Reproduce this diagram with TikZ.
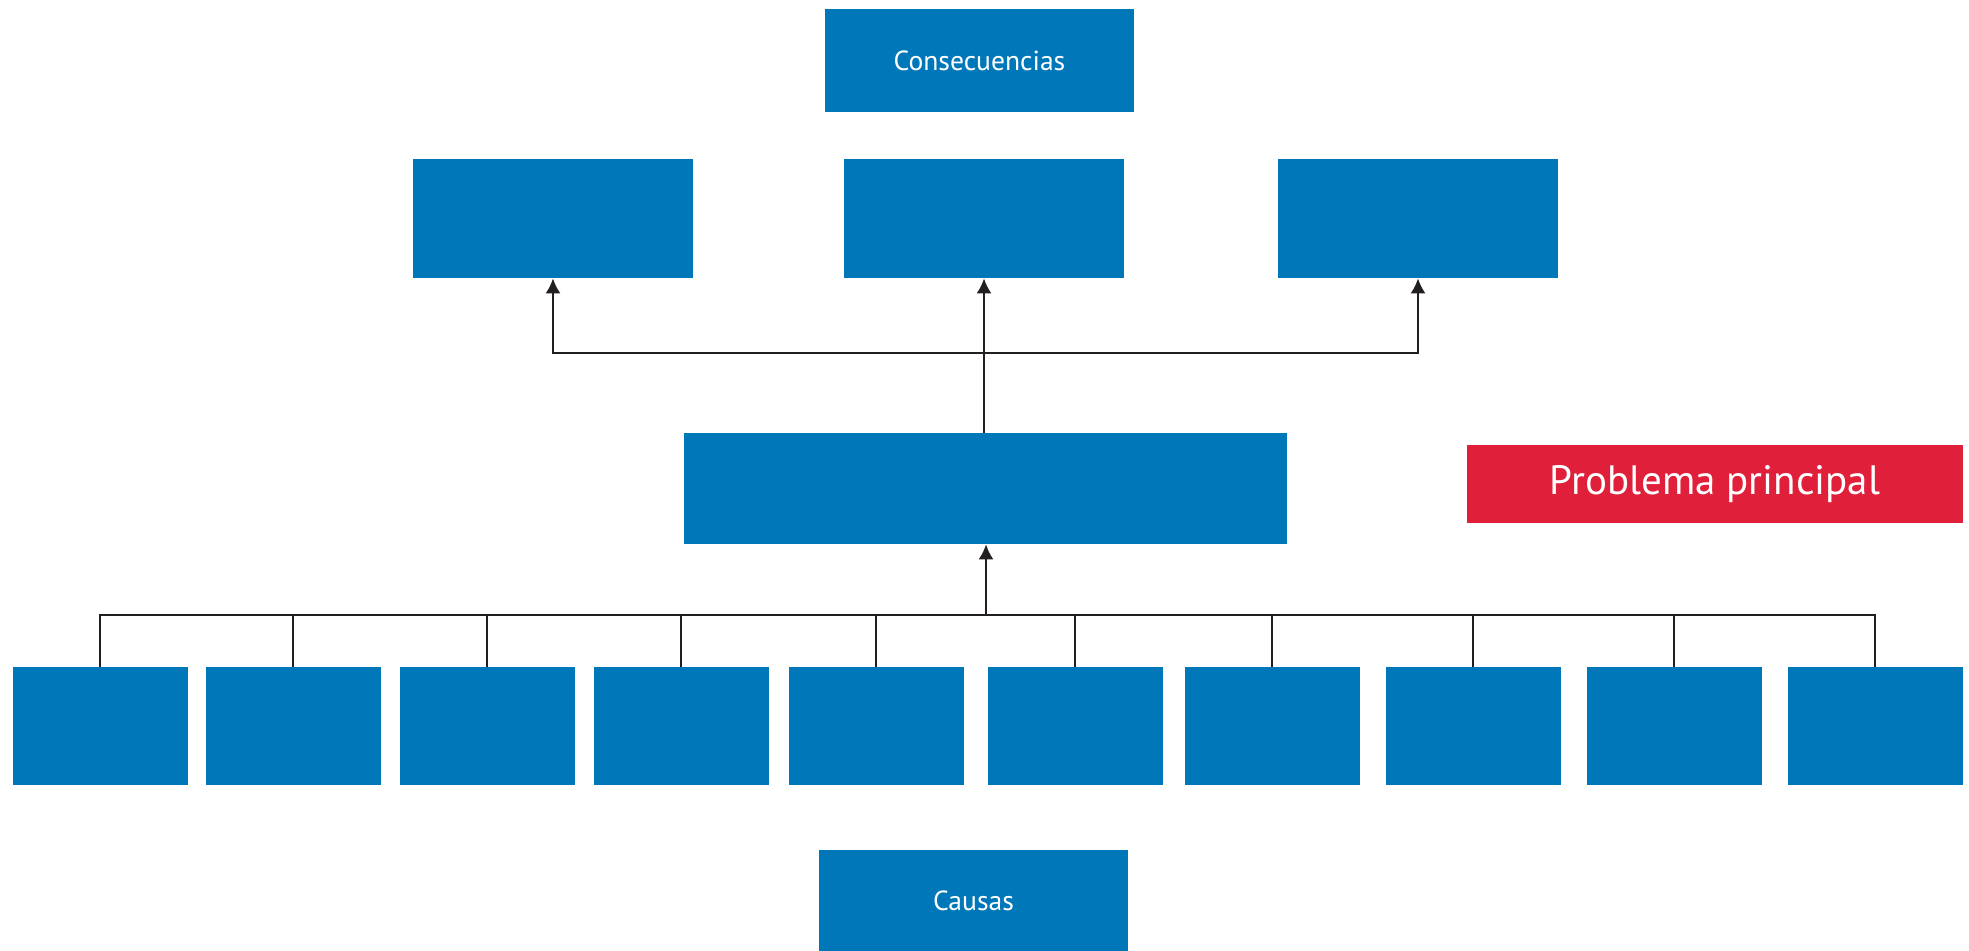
\documentclass[tikz,border=0pt]{standalone}
\usepackage{fontspec}
\setmainfont{PT Sans}
\usepackage{tikz}
\usetikzlibrary{positioning}
\usetikzlibrary{calc}
\usetikzlibrary{arrows.meta}
\definecolor{boxblue}{RGB}{0,119,185}
\definecolor{boxred}{RGB}{224,31,58}
\definecolor{linegray}{RGB}{35,31,32}
\tikzset{
	bluebox/.style={fill=boxblue, draw=none, inner sep=0pt, text=white, font=\fontsize{13.8}{16}\selectfont},
	redbox/.style={fill=boxred, draw=none, inner sep=0pt, text=white, font=\fontsize{20.5}{24}\selectfont},
	link/.style={draw=linegray, line width=1pt},
	arr/.style={link, -{Latex[length=7.5pt,width=7.5pt]}}
}

\begin{document}
\begin{tikzpicture}[x=0.5pt, y=-0.5pt]
				\useasboundingbox (0,0) rectangle (1969,951);
				
				\node[bluebox, minimum width=154.5pt, minimum height=51.5pt] (cons) at (979.5,60.5) {Consecuencias};
				
				\node[bluebox, minimum width=140pt, minimum height=59.5pt] (c1) at (553,218.5) {};
				\node[bluebox, minimum width=140pt, minimum height=59.5pt] (c2) at (984,218.5) {};
				\node[bluebox, minimum width=140pt, minimum height=59.5pt] (c3) at (1418,218.5) {};
				
				\node[bluebox, minimum width=301.5pt, minimum height=55.5pt] (prob) at (985.5,488.5) {};
				\node[redbox, minimum width=248pt, minimum height=39pt] (red) at (1715,484) {Problema principal};
				
				\foreach \i/\x in {1/100,2/293,3/487,4/681,5/876,6/1075,7/1272,8/1473,9/1674,10/1875}
					\node[bluebox, minimum width=87.5pt, minimum height=59pt] (b\i) at (\x,726) {};
				
				\node[bluebox, minimum width=154.5pt, minimum height=50.5pt] (causas) at (973.5,900.5) {Causas};
				
				\coordinate (topbar) at (984,353);
				\coordinate (botbar) at (986,615);
				
				\draw[arr] (prob.north -| c2) -- (c2.south);
				\draw[arr] (topbar) -| (c1.south);
				\draw[arr] (topbar) -| (c3.south);
				
				\draw[arr] (botbar) -- (prob.south -| botbar);
				\foreach \i in {1,...,10}
					\draw[link] (b\i.north) |- (botbar);
			\end{tikzpicture}
\end{document}
